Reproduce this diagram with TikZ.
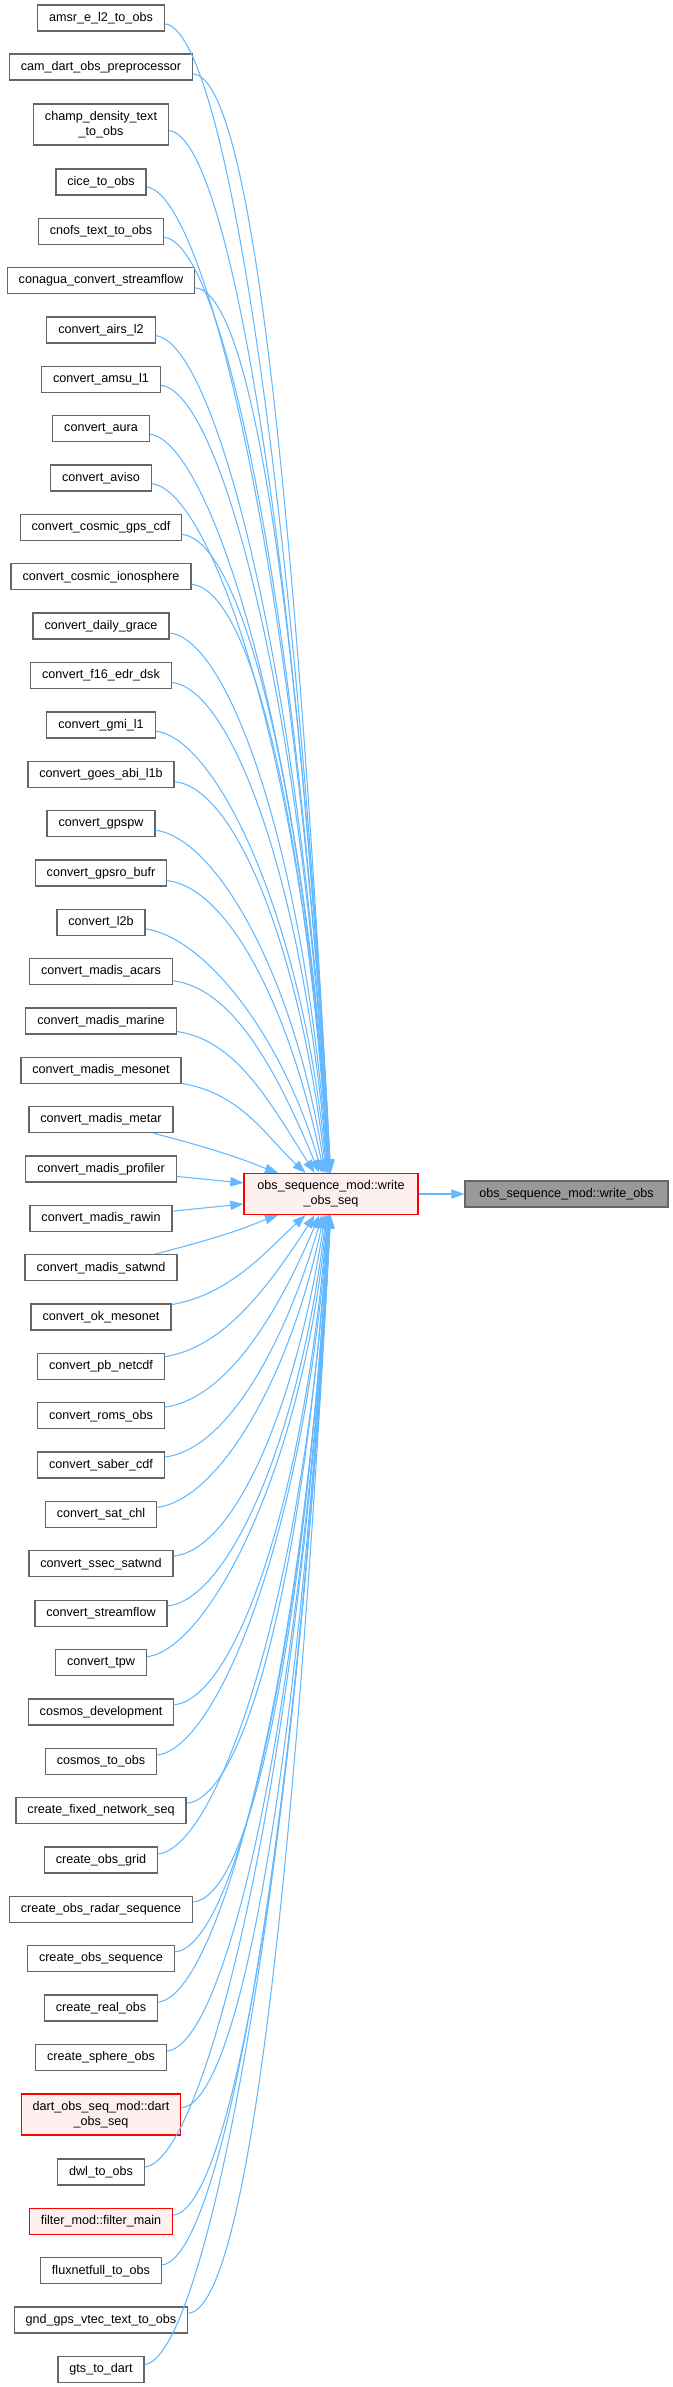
\documentclass[tikz,border=0pt]{standalone}
\usepackage{fontspec}
\setmainfont{Liberation Sans}
\usetikzlibrary{arrows.meta,calc}
\definecolor{edgeblue}{HTML}{63B8FF}
\definecolor{boxgray}{HTML}{666666}
\definecolor{pinkfill}{HTML}{FFF0F0}
\definecolor{darkfill}{HTML}{999999}
\newcommand\dxfont{\fontsize{9.45}{11.5}\selectfont}
\tikzset{
 box/.style={draw=boxgray, fill=white, line width=1pt, rectangle, inner xsep=8.6pt, inner ysep=0pt, minimum height=19.5pt, align=center, font=\dxfont},
 twoline/.style={minimum height=30.75pt},
 redbox/.style={box, draw=red, fill=pinkfill},
 darkbox/.style={box, fill=darkfill},
 callarrow/.style={draw=edgeblue, line width=0.8pt, -{Triangle[length=9.75pt,width=7pt]}}
}
\newcommand\upEdge[2]{%
  \pgfmathsetmacro\myR{23-#1}%
  \pgfmathsetmacro\myD{1174-#2}%
  \pgfmathsetmacro\myTip{2-55/(1+\myR)}%
  \pgfmathsetmacro\myS{0.08+10/\myD}%
  \pgfmathsetmacro\myCy{\myS*130}%
  \pgfmathsetmacro\myTh{87-67*exp(-(\myD-55)/120)}%
  \pgfmathsetmacro\myL{max(0.6*\myD-10,23)}%
  \pgfmathsetmacro\myCx{\myTip-\myL*cos(\myTh)}%
  \pgfmathsetmacro\myCyB{\myL*sin(\myTh)}%
  \draw[callarrow] (n#1) .. controls ($(n#1.east)+(60,\myCy)$) and ($(main.north)+(\myCx,-\myCyB)$) .. ($(main.north)+(\myTip,0)$);%
}
\newcommand\downEdge[2]{%
  \pgfmathsetmacro\myR{#1-26}%
  \pgfmathsetmacro\myD{#2-1214}%
  \pgfmathsetmacro\myTip{2-55/(1+\myR)}%
  \pgfmathsetmacro\myS{0.08+10/\myD}%
  \pgfmathsetmacro\myCy{\myS*130}%
  \pgfmathsetmacro\myTh{87-67*exp(-(\myD-55)/120)}%
  \pgfmathsetmacro\myL{max(0.6*\myD-10,23)}%
  \pgfmathsetmacro\myCx{\myTip-\myL*cos(\myTh)}%
  \pgfmathsetmacro\myCyB{\myL*sin(\myTh)}%
  \draw[callarrow] (n#1) .. controls ($(n#1.east)+(60,-\myCy)$) and ($(main.south)+(\myCx,\myCyB)$) .. ($(main.south)+(\myTip,0)$);%
}
\begin{document}
\begin{tikzpicture}[x=0.75pt,y=-0.75pt]
\useasboundingbox (0,0) rectangle (673,2387);
% target nodes
\node[redbox, twoline, minimum width=130.5pt] (main) at (331,1194) {obs\_sequence\_mod::write\\\_obs\_seq};
\node[darkbox, minimum width=152.25pt] (wo) at (566.5,1194) {obs\_sequence\_mod::write\_obs};
% callers
\node[box] (n1) at (101,18) {amsr\_e\_l2\_to\_obs};
\node[box] (n2) at (101,67) {cam\_dart\_obs\_preprocessor};
\node[box, twoline] (n3) at (101,124.5) {champ\_density\_text\\\_to\_obs};
\node[box] (n4) at (101,182) {cice\_to\_obs};
\node[box] (n5) at (101,231.35) {cnofs\_text\_to\_obs};
\node[box] (n6) at (101,280.7) {conagua\_convert\_streamflow};
\node[box] (n7) at (101,330.05) {convert\_airs\_l2};
\node[box] (n8) at (101,379.4) {convert\_amsu\_l1};
\node[box] (n9) at (101,428.75) {convert\_aura};
\node[box] (n10) at (101,478.1) {convert\_aviso};
\node[box] (n11) at (101,527.45) {convert\_cosmic\_gps\_cdf};
\node[box] (n12) at (101,576.8) {convert\_cosmic\_ionosphere};
\node[box] (n13) at (101,626.15) {convert\_daily\_grace};
\node[box] (n14) at (101,675.5) {convert\_f16\_edr\_dsk};
\node[box] (n15) at (101,724.85) {convert\_gmi\_l1};
\node[box] (n16) at (101,774.2) {convert\_goes\_abi\_l1b};
\node[box] (n17) at (101,823.55) {convert\_gpspw};
\node[box] (n18) at (101,872.9) {convert\_gpsro\_bufr};
\node[box] (n19) at (101,922.25) {convert\_l2b};
\node[box] (n20) at (101,971.6) {convert\_madis\_acars};
\node[box] (n21) at (101,1020.95) {convert\_madis\_marine};
\node[box] (n22) at (101,1070.3) {convert\_madis\_mesonet};
\node[box] (n23) at (101,1119.65) {convert\_madis\_metar};
\node[box] (n24) at (101,1169) {convert\_madis\_profiler};
\node[box] (n25) at (101,1218.35) {convert\_madis\_rawin};
\node[box] (n26) at (101,1267.7) {convert\_madis\_satwnd};
\node[box] (n27) at (101,1317.05) {convert\_ok\_mesonet};
\node[box] (n28) at (101,1366.4) {convert\_pb\_netcdf};
\node[box] (n29) at (101,1415.75) {convert\_roms\_obs};
\node[box] (n30) at (101,1465.1) {convert\_saber\_cdf};
\node[box] (n31) at (101,1514.45) {convert\_sat\_chl};
\node[box] (n32) at (101,1563.8) {convert\_ssec\_satwnd};
\node[box] (n33) at (101,1613.15) {convert\_streamflow};
\node[box] (n34) at (101,1662.5) {convert\_tpw};
\node[box] (n35) at (101,1711.85) {cosmos\_development};
\node[box] (n36) at (101,1761.2) {cosmos\_to\_obs};
\node[box] (n37) at (101,1810.55) {create\_fixed\_network\_seq};
\node[box] (n38) at (101,1859.9) {create\_obs\_grid};
\node[box] (n39) at (101,1909.25) {create\_obs\_radar\_sequence};
\node[box] (n40) at (101,1958.6) {create\_obs\_sequence};
\node[box] (n41) at (101,2007.95) {create\_real\_obs};
\node[box] (n42) at (101,2057.3) {create\_sphere\_obs};
\node[redbox, twoline] (n43) at (101,2114.5) {dart\_obs\_seq\_mod::dart\\\_obs\_seq};
\node[box] (n44) at (101,2172) {dwl\_to\_obs};
\node[redbox] (n45) at (101,2221.35) {filter\_mod::filter\_main};
\node[box] (n46) at (101,2270.7) {fluxnetfull\_to\_obs};
\node[box] (n47) at (101,2320.05) {gnd\_gps\_vtec\_text\_to\_obs};
\node[box] (n48) at (101,2369.4) {gts\_to\_dart};
% connectors
\foreach \k/\yy in {1/18,2/67,3/124.5,4/182,5/231.35,6/280.7,7/330.05,8/379.4,9/428.75,10/478.1,11/527.45,12/576.8,13/626.15,14/675.5,15/724.85,16/774.2,17/823.55,18/872.9,19/922.25,20/971.6,21/1020.95,22/1070.3,23/1119.65}
  {\upEdge{\k}{\yy}}
\foreach \k/\yy in {26/1267.7,27/1317.05,28/1366.4,29/1415.75,30/1465.1,31/1514.45,32/1563.8,33/1613.15,34/1662.5,35/1711.85,36/1761.2,37/1810.55,38/1859.9,39/1909.25,40/1958.6,41/2007.95,42/2057.3,43/2114.5,44/2172,45/2221.35,46/2270.7,47/2320.05,48/2369.4}
  {\downEdge{\k}{\yy}}
\draw[callarrow] (n24) -- ($(main.west)+(0,-11)$);
\draw[callarrow] (n25) -- ($(main.west)+(0,10)$);
\draw[callarrow] (main) -- (wo);
\end{tikzpicture}
\end{document}
